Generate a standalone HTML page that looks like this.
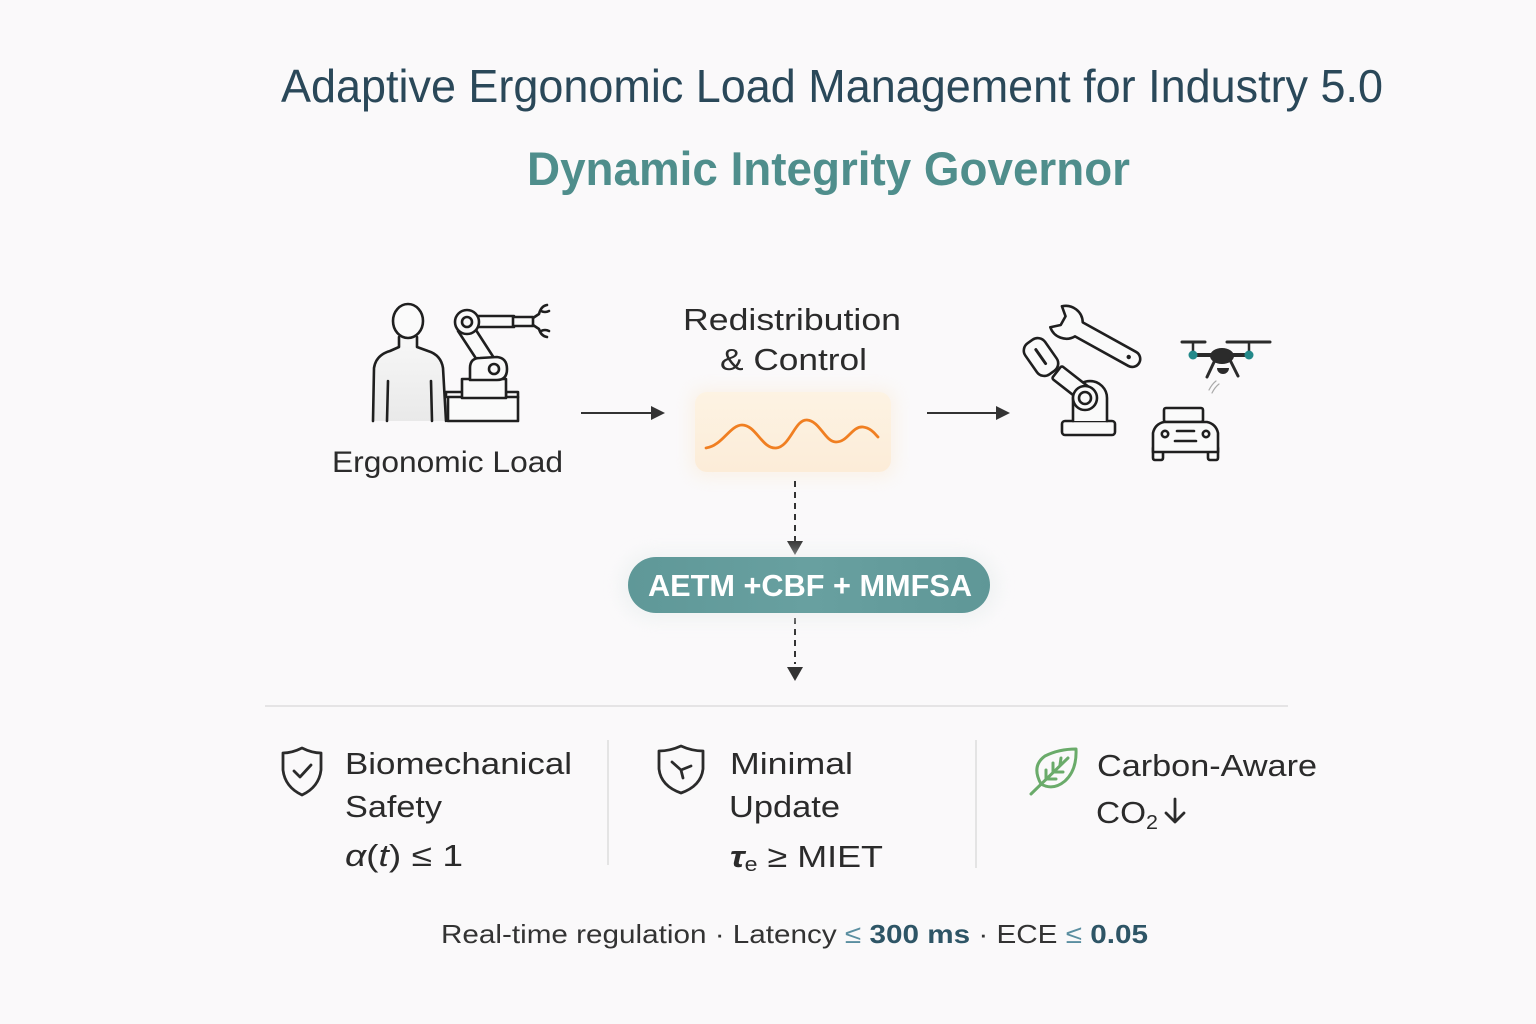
<!DOCTYPE html>
<html>
<head>
<meta charset="utf-8">
<style>
  html,body{margin:0;padding:0;background:#faf9fa;}
  svg{display:block;}
  text{font-family:"Liberation Sans","DejaVu Sans",sans-serif;}
</style>
</head>
<body>
<svg width="1536" height="1024" viewBox="0 0 1536 1024" xmlns="http://www.w3.org/2000/svg">
  <defs>
    <linearGradient id="og" x1="0" y1="0" x2="0" y2="1">
      <stop offset="0" stop-color="#fdf3e3"/>
      <stop offset="1" stop-color="#fcecd8"/>
    </linearGradient>
    <linearGradient id="pg" x1="0" y1="0" x2="1" y2="0">
      <stop offset="0" stop-color="#5f9898"/>
      <stop offset="0.5" stop-color="#68a0a0"/>
      <stop offset="1" stop-color="#5f9797"/>
    </linearGradient>
    <linearGradient id="bodyg" x1="0" y1="0" x2="0" y2="1">
      <stop offset="0" stop-color="#f7f7f7"/>
      <stop offset="1" stop-color="#e9e9e9"/>
    </linearGradient>
    <filter id="soft" x="-20%" y="-50%" width="140%" height="200%">
      <feGaussianBlur stdDeviation="8"/>
    </filter>
  </defs>

  <rect width="1536" height="1024" fill="#faf9fa"/>

  <!-- Titles -->
  <text x="281" y="102" font-size="46" fill="#2a4859" textLength="1102" lengthAdjust="spacingAndGlyphs">Adaptive Ergonomic Load Management for Industry 5.0</text>
  <text x="527" y="185" font-size="47" font-weight="bold" fill="#4f8e8c" textLength="603" lengthAdjust="spacingAndGlyphs">Dynamic Integrity Governor</text>

  <!-- Person -->
  <g fill="none" stroke="#1f1f1f" stroke-width="2.6" stroke-linecap="round" stroke-linejoin="round">
    <path d="M373 421 L374 368 Q376 355 390 351 L399 347 L399 337 L417 337 L417 347 L428 351 Q441 355 443 368 L446 421 Z" fill="url(#bodyg)" stroke="none"/>
    <path d="M373 421 L374 368 Q376 355 390 351 L399 347 L399 337 M417 337 L417 347 L428 351 Q441 355 443 368 L446 421"/>
    <ellipse cx="408" cy="321" rx="15" ry="17" fill="#fafafa"/>
    <path d="M388 381 L387 421 M431 381 L432 421"/>
  </g>

  <!-- Robot arm 1 -->
  <g fill="#fafafa" stroke="#1f1f1f" stroke-width="2.6" stroke-linecap="round" stroke-linejoin="round">
    <rect x="448" y="397" width="70" height="24"/>
    <path d="M446 397 L446 392 L506 392 L506 397 M506 392 L518 392 L518 397" fill="none"/>
    <rect x="462" y="379" width="44" height="19"/>
    <path d="M458 331 L477 360 L494 358 L474 327 Z"/>
    <path d="M470 380 L470 368 Q470 358 480 358 L497 357 Q507 358 507 369 Q507 380 497 380 Z"/>
    <circle cx="494" cy="369" r="5"/>
    <rect x="478" y="316" width="36" height="11"/>
    <rect x="513" y="317" width="20" height="9"/>
    <circle cx="467" cy="322" r="12"/>
    <circle cx="467" cy="322" r="5"/>
    <path d="M533 318 L539 314 Q541 306 547 305 M541 311 Q545 313 549 311" fill="none"/>
    <path d="M533 325 L539 329 Q541 336 547 337 M541 331 Q545 329 549 331" fill="none"/>
  </g>

  <text x="332" y="472" font-size="30" fill="#2b2b2b" textLength="231" lengthAdjust="spacingAndGlyphs">Ergonomic Load</text>

  <!-- Arrow 1 -->
  <line x1="581" y1="413" x2="653" y2="413" stroke="#333" stroke-width="2"/>
  <path d="M651 406 L665 413 L651 420 Z" fill="#333"/>

  <!-- Redistribution -->
  <text x="683" y="330" font-size="31" fill="#2b2b2b" textLength="218" lengthAdjust="spacingAndGlyphs">Redistribution</text>
  <text x="720" y="370" font-size="31" fill="#2b2b2b" textLength="147" lengthAdjust="spacingAndGlyphs">&amp; Control</text>

  <!-- Orange box -->
  <rect x="690" y="388" width="206" height="90" rx="14" fill="#fbe7cf" opacity="0.4" filter="url(#soft)"/>
  <rect x="695" y="392" width="196" height="80" rx="12" fill="url(#og)"/>
  <path d="M706 448 C722 446 730 425 742 425 C756 425 762 449 776 448 C790 447 795 419 807 420 C820 421 825 442 836 442 C848 442 852 426 863 427 C871 428 875 434 878 437" fill="none" stroke="#f07f22" stroke-width="2.8" stroke-linecap="round"/>

  <!-- Arrow 2 -->
  <line x1="927" y1="413" x2="998" y2="413" stroke="#333" stroke-width="2"/>
  <path d="M996 406 L1010 413 L996 420 Z" fill="#333"/>

  <!-- Wrench -->
  <g transform="translate(1071,325) rotate(29)" fill="#fafafa" stroke="#1f1f1f" stroke-width="2.6" stroke-linejoin="round">
    <path d="M9 -8 L70 -8 A8 8 0 0 1 70 8 L9 8 A17 17 0 0 1 -17 12 L-9 5 L-9 -5 L-17 -12 A17 17 0 0 1 9 -8 Z"/>
    <circle cx="66" cy="0" r="2.2" fill="#1f1f1f" stroke="none"/>
  </g>

  <!-- Robot arm 2 -->
  <g fill="#fafafa" stroke="#1f1f1f" stroke-width="2.6" stroke-linejoin="round" stroke-linecap="round">
    <rect x="1062" y="421" width="53" height="14" rx="3"/>
    <path d="M1073 421 L1073 398 A17 17 0 0 1 1107 398 L1107 421"/>
    <g transform="translate(1063,377) rotate(38)">
      <rect x="-8" y="-8" width="36" height="16" rx="2"/>
    </g>
    <circle cx="1085" cy="398" r="12"/>
    <circle cx="1085" cy="398" r="6"/>
    <g transform="translate(1041,357) rotate(-35)">
      <rect x="-12" y="-19" width="24" height="38" rx="9"/>
      <line x1="0" y1="-9" x2="0" y2="8" stroke-width="3"/>
    </g>
  </g>

  <!-- Drone -->
  <g stroke-linecap="round">
    <line x1="1182" y1="342" x2="1205" y2="342" stroke="#2b2b2b" stroke-width="3"/>
    <line x1="1227" y1="342" x2="1270" y2="342" stroke="#2b2b2b" stroke-width="3"/>
    <line x1="1193" y1="342" x2="1193" y2="355" stroke="#2b2b2b" stroke-width="2.5"/>
    <line x1="1249" y1="342" x2="1249" y2="355" stroke="#2b2b2b" stroke-width="2.5"/>
    <line x1="1193" y1="355" x2="1249" y2="355" stroke="#2b2b2b" stroke-width="4"/>
    <ellipse cx="1222" cy="356" rx="12" ry="8" fill="#2b2b2b"/>
    <line x1="1215" y1="360" x2="1207" y2="377" stroke="#2b2b2b" stroke-width="3"/>
    <line x1="1230" y1="360" x2="1238" y2="376" stroke="#2b2b2b" stroke-width="3"/>
    <circle cx="1193" cy="355" r="4.5" fill="#23898a"/>
    <circle cx="1249" cy="355" r="4.5" fill="#23898a"/>
    <path d="M1217 368 L1229 368 A6 6 0 0 1 1217 368 Z" fill="#2b2b2b"/>
    <path d="M1209 390 Q1212 384 1216 381 M1212 393 Q1215 387 1219 384" fill="none" stroke="#aaa" stroke-width="1.2"/>
  </g>

  <!-- Car -->
  <g fill="#fafafa" stroke="#1f1f1f" stroke-width="2.6" stroke-linejoin="round" stroke-linecap="round">
    <rect x="1153" y="446" width="10" height="14" rx="2"/>
    <rect x="1208" y="446" width="10" height="14" rx="2"/>
    <rect x="1164" y="408" width="39" height="14" rx="2"/>
    <path d="M1153 452 L1153 433 Q1155 424 1164 422 L1207 422 Q1216 424 1218 433 L1218 452 Z"/>
    <circle cx="1165" cy="434" r="3.2"/>
    <circle cx="1206" cy="434" r="3.2"/>
    <line x1="1177" y1="431" x2="1194" y2="431"/>
    <line x1="1175" y1="441" x2="1196" y2="441"/>
  </g>

  <!-- Dashed connectors -->
  <line x1="795" y1="481" x2="795" y2="541" stroke="#333" stroke-width="2" stroke-dasharray="6 5"/>
  <path d="M787 541 L803 541 L795 555 Z" fill="#333"/>
  <line x1="795" y1="618" x2="795" y2="664" stroke="#333" stroke-width="2" stroke-dasharray="6 5"/>
  <path d="M787 667 L803 667 L795 681 Z" fill="#333"/>

  <!-- Pill -->
  <rect x="620" y="552" width="378" height="68" rx="34" fill="#e9eeee" opacity="0.6" filter="url(#soft)"/>
  <rect x="628" y="557" width="362" height="56" rx="28" fill="url(#pg)"/>
  <text x="648" y="596" font-size="31" font-weight="bold" fill="#ffffff" textLength="324" lengthAdjust="spacingAndGlyphs">AETM +CBF + MMFSA</text>

  <!-- Divider -->
  <line x1="265" y1="706" x2="1288" y2="706" stroke="#dedede" stroke-width="1.5"/>
  <line x1="608" y1="740" x2="608" y2="865" stroke="#dcdcdc" stroke-width="1.5"/>
  <line x1="976" y1="740" x2="976" y2="868" stroke="#dcdcdc" stroke-width="1.5"/>

  <!-- Shield 1 -->
  <g fill="none" stroke="#2b2b2b" stroke-width="2.8" stroke-linejoin="round" stroke-linecap="round">
    <path d="M302 748 Q292 753 283 753 L283 770 Q285 787 302 795 Q319 787 321 770 L321 753 Q312 753 302 748 Z"/>
    <path d="M294 771 L300 777 L311 765"/>
  </g>
  <text x="345" y="774" font-size="31" fill="#2b2b2b" textLength="227" lengthAdjust="spacingAndGlyphs">Biomechanical</text>
  <text x="345" y="817" font-size="31" fill="#2b2b2b" textLength="97" lengthAdjust="spacingAndGlyphs">Safety</text>
  <text x="345" y="866" font-size="31" fill="#2b2b2b" textLength="118" lengthAdjust="spacingAndGlyphs"><tspan font-style="italic">α</tspan>(<tspan font-style="italic">t</tspan>) ≤ 1</text>

  <!-- Shield 2 -->
  <g fill="none" stroke="#2b2b2b" stroke-width="2.8" stroke-linejoin="round" stroke-linecap="round">
    <path d="M681 746 Q670 751 659 751 L659 769 Q661 786 681 793 Q701 786 703 769 L703 751 Q692 751 681 746 Z"/>
    <path d="M672 762 L681 770 L691 766 M681 770 L683 778"/>
  </g>
  <text x="730" y="774" font-size="31" fill="#2b2b2b" textLength="123" lengthAdjust="spacingAndGlyphs">Minimal</text>
  <text x="729" y="817" font-size="31" fill="#2b2b2b" textLength="111" lengthAdjust="spacingAndGlyphs">Update</text>
  <text x="730" y="867" font-size="31" fill="#2b2b2b" textLength="153" lengthAdjust="spacingAndGlyphs"><tspan font-weight="bold" font-style="italic">τ</tspan><tspan font-size="20" dy="4">e</tspan><tspan dy="-4"> ≥ MIET</tspan></text>

  <!-- Leaf -->
  <g fill="none" stroke="#6aab6a" stroke-width="3" stroke-linejoin="round" stroke-linecap="round">
    <path d="M1041 784 Q1031 766 1045 756 Q1059 749 1076 749 Q1077 770 1065 781 Q1053 791 1041 784 Z"/>
    <path d="M1031 794 L1068 758"/>
    <path d="M1046 779 L1046 770 M1053 772 L1053 763 M1060 765 L1061 758 M1046 779 L1056 779 M1053 772 L1063 772"/>
  </g>
  <text x="1097" y="776" font-size="31" fill="#2b2b2b" textLength="220" lengthAdjust="spacingAndGlyphs">Carbon-Aware</text>
  <text x="1096" y="823" font-size="31" fill="#2b2b2b" textLength="62" lengthAdjust="spacingAndGlyphs">CO<tspan font-size="20" dy="6">2</tspan></text>
  <g fill="none" stroke="#2b2b2b" stroke-width="2.8" stroke-linecap="round" stroke-linejoin="round">
    <path d="M1175 799 L1175 822 M1166 813 L1175 822 L1184 813"/>
  </g>

  <!-- Footer -->
  <text x="441" y="943" font-size="26" fill="#333" textLength="707" lengthAdjust="spacingAndGlyphs">Real-time regulation · Latency <tspan fill="#5a8ea0">≤</tspan> <tspan font-weight="bold" fill="#2e5566">300 ms</tspan> · ECE <tspan fill="#5a8ea0">≤</tspan> <tspan font-weight="bold" fill="#2e5566">0.05</tspan></text>
</svg>
</body>
</html>
